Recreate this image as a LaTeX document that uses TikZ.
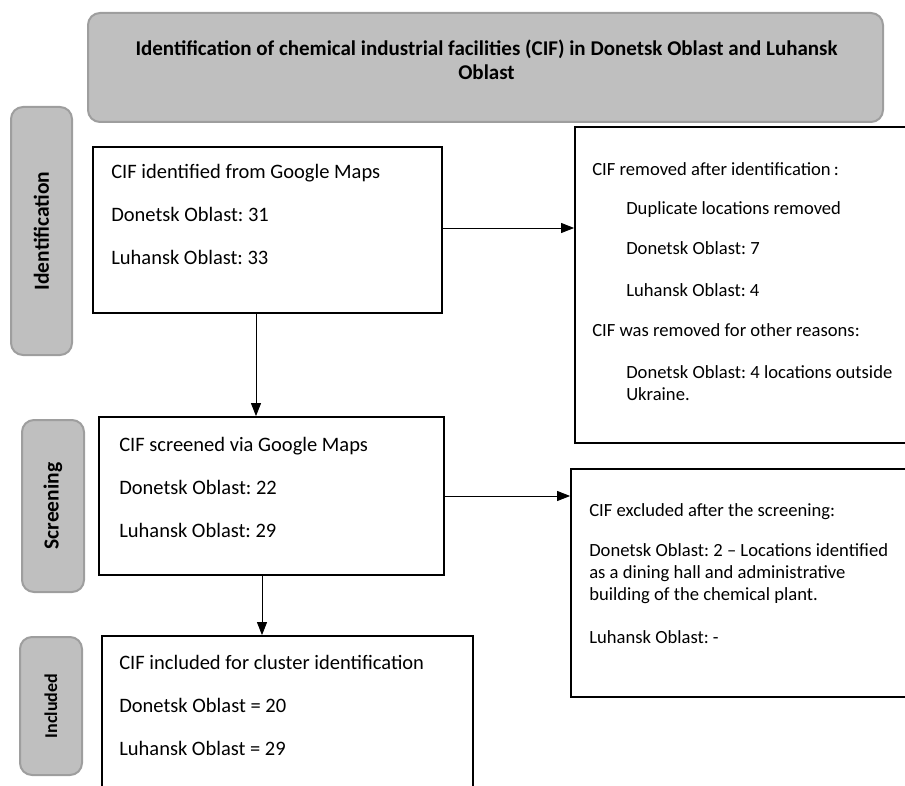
\documentclass[tikz,border=0pt]{standalone}
\usepackage{fontspec}
\setmainfont{Carlito}
\usetikzlibrary{arrows.meta,positioning}

\definecolor{stagefill}{HTML}{BFBFBF}
\definecolor{stageline}{HTML}{9E9E9E}

\begin{document}
\frenchspacing
\begin{tikzpicture}[x=1pt,y=-1pt,
  stage/.style={draw=stageline,fill=stagefill,line width=2pt,rounded corners=12pt,inner sep=0pt,
    font=\bfseries\fontsize{21.5}{25}\selectfont},
  cifbox/.style={draw,line width=1.8pt,inner sep=0pt},
  bigtext/.style={anchor=north west,inner sep=0pt,align=left,font=\fontsize{20.5}{25}\selectfont},
  smalltext/.style={anchor=north west,inner sep=0pt,align=left,font=\fontsize{18.6}{22}\selectfont},
  flow/.style={-{Triangle[length=13pt,width=10pt]},line width=0.9pt}
]
\useasboundingbox (0,0) rectangle (905,786);
\clip (0,0) rectangle (905,786);

% headline and stage labels
\node[stage,minimum width=795pt,minimum height=109pt] (head) at (485.5,67.5) {};
\node[align=center,inner sep=0pt,font=\bfseries\fontsize{21}{24.5}\selectfont] (headtxt) at (486.5,60)
  {Identification of chemical industrial facilities (CIF) in Donetsk Oblast and Luhansk\\Oblast};
\node[stage,rotate=90,minimum width=248pt,minimum height=61pt] (identstage) at (41.5,231) {Identification};
\node[stage,rotate=90,minimum width=172pt,minimum height=62pt] (screenstage) at (53,506) {Screening};
\node[stage,rotate=90,minimum width=138pt,minimum height=62pt,
  font=\bfseries\fontsize{18}{22}\selectfont] (inclstage) at (51,706) {Included};

% main boxes
\node[cifbox,minimum width=349pt,minimum height=166pt] (ident) at (267.5,230) {};
\node[cifbox,minimum width=345pt,minimum height=158pt] (screen) at (271.5,496) {};
\node[cifbox,minimum width=371pt,minimum height=200pt] (incl) at (287.5,736) {};
\node[cifbox,minimum width=360pt,minimum height=316pt] (removed) at (755,285) {};
\node[cifbox,minimum width=364pt,minimum height=228pt] (excluded) at (753,583) {};

% box texts
\node[bigtext,below right=17.6pt and 19pt of ident.north west] (identtxt)
  {CIF identified from Google Maps\\[18pt]Donetsk Oblast: 31\\[18pt]Luhansk Oblast: 33};
\node[bigtext,below right=20.6pt and 21pt of screen.north west] (screentxt)
  {CIF screened via Google Maps\\[18pt]Donetsk Oblast: 22\\[18pt]Luhansk Oblast: 29};
\node[bigtext,below right=19.6pt and 18pt of incl.north west] (incltxt)
  {CIF included for cluster identification\\[18pt]Donetsk Oblast = 20\\[18pt]Luhansk Oblast = 29};
\node[smalltext,below right=36pt and 18pt of removed.north west] (removedtxt)
  {CIF removed after identification\,:\\[17pt]
   \hspace*{34pt}Duplicate locations removed\\[18pt]
   \hspace*{34pt}Donetsk Oblast: 7\\[20pt]
   \hspace*{34pt}Luhansk Oblast: 4\\[18pt]
   CIF was removed for other reasons:\\[20pt]
   \hspace*{34pt}Donetsk Oblast: 4 locations outside\\
   \hspace*{34pt}Ukraine.};
\node[smalltext,below right=35pt and 19pt of excluded.north west] (excludedtxt)
  {CIF excluded after the screening:\\[18pt]
   Donetsk Oblast: 2 -- Locations identified\\
   as a dining hall and administrative\\
   building of the chemical plant.\\[21pt]
   Luhansk Oblast: -};

% connectors
\draw[flow] ([xshift=-11.5pt]ident.south) -- ([xshift=-11.5pt]ident.south |- screen.north);
\draw[flow] ([xshift=-9.5pt]screen.south) -- ([xshift=-9.5pt]screen.south |- incl.north);
\draw[flow] ([yshift=2pt]ident.east) -- ([yshift=2pt]ident.east -| removed.west);
\draw[flow] (screen.east) -- (screen.east -| excluded.west);
\end{tikzpicture}
\end{document}
